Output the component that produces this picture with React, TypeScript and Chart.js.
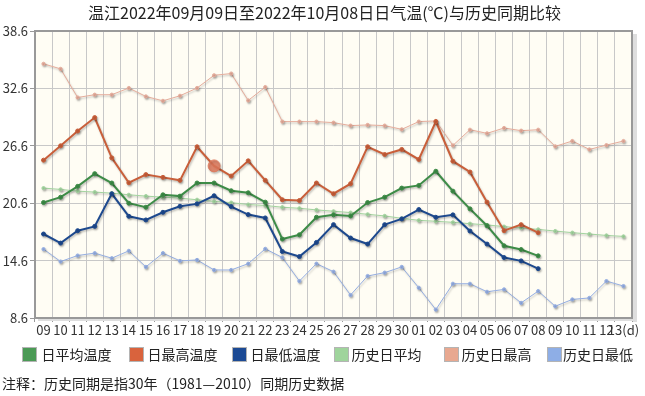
import React, { useEffect, useRef } from 'react';
import { Chart, registerables } from 'chart.js';
Chart.register(...registerables);

const FONT = "'Noto Sans CJK SC', 'Noto Sans', sans-serif";

const titleText = '温江2022年09月09日至2022年10月08日日气温(℃)与历史同期比较';
const noteText = '注释：历史同期是指30年（1981—2010）同期历史数据';

const dayLabels = [
  '09', '10', '11', '12', '13', '14', '15', '16', '17', '18', '19', '20', '21', '22', '23', '24', '25', '26', '27', '28', '29', '30',
  '01', '02', '03', '04', '05', '06', '07', '08', '09', '10', '11', '12', '13(d)',
];

const avgTemp = [20.67, 21.23, 22.36, 23.69, 22.71, 20.6, 20.18, 21.48, 21.34, 22.71, 22.71, 21.9, 21.69, 20.71, 16.85, 17.3, 19.13, 19.38, 19.27, 20.67, 21.23, 22.18, 22.46, 23.94, 21.86, 20.01, 18.25, 16.15, 15.76, 15.1];
const maxTemp = [25.1, 26.6, 28.15, 29.55, 25.34, 22.74, 23.59, 23.3, 22.99, 26.5, 24.5, 23.44, 25.03, 22.99, 20.96, 20.88, 22.71, 21.59, 22.64, 26.5, 25.69, 26.22, 25.17, 29.13, 24.99, 23.86, 20.71, 17.73, 18.36, 17.52];
const minTemp = [17.38, 16.43, 17.73, 18.18, 21.59, 19.23, 18.85, 19.65, 20.28, 20.53, 21.38, 20.25, 19.41, 19.06, 15.55, 15.02, 16.5, 18.36, 16.96, 16.33, 18.36, 18.96, 19.94, 19.13, 19.38, 17.69, 16.33, 14.92, 14.57, 13.76];
const histAvg = [22.18, 22.04, 21.86, 21.76, 21.65, 21.48, 21.34, 21.23, 21.13, 20.96, 20.78, 20.66, 20.46, 20.36, 20.18, 20.07, 19.9, 19.76, 19.62, 19.44, 19.27, 19.02, 18.81, 18.71, 18.6, 18.46, 18.33, 18.15, 18.01, 17.86, 17.69, 17.52, 17.38, 17.23, 17.13];
const histMax = [35.17, 34.64, 31.65, 31.94, 31.94, 32.64, 31.76, 31.3, 31.83, 32.64, 33.97, 34.15, 31.34, 32.74, 29.13, 29.13, 29.13, 29.02, 28.71, 28.78, 28.71, 28.32, 29.13, 29.2, 26.64, 28.28, 27.9, 28.46, 28.18, 28.28, 26.54, 27.1, 26.22, 26.67, 27.1];
const histMin = [15.8, 14.5, 15.13, 15.38, 14.85, 15.62, 13.94, 15.38, 14.57, 14.67, 13.62, 13.62, 14.28, 15.83, 14.92, 12.46, 14.28, 13.44, 11.0, 12.99, 13.34, 13.94, 11.76, 9.48, 12.18, 12.18, 11.34, 11.59, 10.18, 11.41, 9.83, 10.54, 10.7, 12.46, 11.94];

const seriesNames = ['日平均温度', '日最高温度', '日最低温度', '历史日平均', '历史日最高', '历史日最低'];
const lineColors = ['#3d8c47', '#c95f3a', '#1d498e', '#a3d49f', '#e6ad9c', '#95aee2'];
const boxColors = ['#4b9a55', '#d9633d', '#1c4a94', '#9fd49c', '#e8a890', '#8eaee6'];

const yMin = 8.6;
const yMax = 38.6;
const yStep = 6;
const highlightIndex = 10;

const legendBoxX = [22, 129, 232, 334, 444, 547];
const legendTextX = [41.5, 147.5, 250.5, 351.5, 461.5, 563];

const decor = {
  id: 'decor',
  beforeDraw(chart: any) {
    const { ctx, chartArea: a } = chart;
    ctx.save();
    ctx.fillStyle = '#ffffff';
    ctx.fillRect(0, 0, chart.width, chart.height);
    ctx.fillStyle = '#fffdf4';
    ctx.fillRect(a.left, a.top, a.right - a.left, a.bottom - a.top);
    ctx.restore();
  },
  beforeDatasetsDraw(chart: any) {
    const ctx = chart.ctx;
    ctx.save();
    ctx.shadowColor = 'rgba(0,0,0,0.25)';
    ctx.shadowBlur = 2;
    ctx.shadowOffsetX = 1;
    ctx.shadowOffsetY = 1.5;
  },
  afterDatasetsDraw(chart: any) {
    const { ctx, chartArea: a } = chart;
    ctx.restore();
    ctx.save();
    ctx.fillStyle = '#dedede';
    ctx.fillRect(a.right + 1, a.top + 3, 4, a.bottom - a.top + 1);
    ctx.fillRect(a.left + 3, a.bottom + 1, a.right - a.left + 2, 2);
    ctx.strokeStyle = '#999999';
    ctx.lineWidth = 2;
    ctx.strokeRect(a.left, a.top, a.right - a.left, a.bottom - a.top);
    ctx.restore();
  },
  afterDraw(chart: any) {
    const ctx = chart.ctx;
    ctx.save();
    ctx.fillStyle = '#222';
    ctx.textBaseline = 'middle';
    ctx.textAlign = 'center';
    ctx.font = `16px ${FONT}`;
    ctx.fillText(titleText, chart.width / 2 + 2, 13);

    ctx.textAlign = 'left';
    ctx.font = `14px ${FONT}`;
    seriesNames.forEach((name, i) => {
      const bx = legendBoxX[i];
      const by = 347;
      ctx.fillStyle = boxColors[i];
      ctx.fillRect(bx + 1, by + 1, 13, 13);
      ctx.strokeStyle = '#b4b4b4';
      ctx.lineWidth = 1;
      ctx.strokeRect(bx + 0.5, by + 0.5, 14, 14);
      ctx.fillStyle = '#222';
      ctx.fillText(name, legendTextX[i], 355);
    });

    ctx.font = `14px ${FONT}`;
    ctx.fillStyle = '#222';
    ctx.fillText(noteText, 2, 384);
    ctx.restore();
  },
};

export default function App() {
  const ref = useRef<HTMLCanvasElement | null>(null);
  useEffect(() => {
    if (!ref.current) return;
    const values = [avgTemp, maxTemp, minTemp, histAvg, histMax, histMin];
    const datasets = values.map((data, i) => {
      const hist = i >= 3;
      return {
        label: seriesNames[i],
        data,
        borderColor: lineColors[i],
        backgroundColor: lineColors[i],
        borderWidth: hist ? 1 : 2,
        pointRadius: i === 1 ? (c: any) => (c.dataIndex === highlightIndex ? 6 : 2) : hist ? 1.6 : 2,
        pointBackgroundColor: i === 1 ? (c: any) => (c.dataIndex === highlightIndex ? 'rgba(222,120,90,0.85)' : lineColors[i]) : lineColors[i],
        pointBorderColor: i === 1 ? (c: any) => (c.dataIndex === highlightIndex ? 'rgba(222,120,90,0.85)' : lineColors[i]) : lineColors[i],
        pointBorderWidth: 1,
        tension: 0,
        fill: false,
      };
    });
    const chart = new Chart(ref.current, {
      type: 'line',
      data: { labels: dayLabels, datasets },
      plugins: [decor],
      options: {
        animation: false,
        responsive: true,
        maintainAspectRatio: false,
        layout: { padding: { left: 0, top: 31, right: 13, bottom: 58 } },
        plugins: {
          legend: { display: false },
          title: { display: false },
          tooltip: { enabled: false },
        },
        scales: {
          x: {
            type: 'category',
            offset: true,
            grid: { offset: true, color: '#c8c8c8', lineWidth: 1, tickLength: 4, tickColor: '#999' },
            border: { display: false },
            ticks: { font: { family: FONT, size: 13 }, color: '#333', padding: 0, maxRotation: 0, autoSkip: false },
            afterFit(s: any) { s.height = 20; },
          },
          y: {
            min: yMin,
            max: yMax,
            grid: { color: '#c8c8c8', lineWidth: 1, tickLength: 5, tickColor: '#999' },
            border: { display: false },
            ticks: {
              stepSize: yStep,
              font: { family: FONT, size: 13 },
              color: '#333',
              padding: 2,
              callback: (v: any) => Number(v).toFixed(1),
            },
            afterFit(s: any) { s.width = 35; },
          },
        },
      },
    });
    return () => chart.destroy();
  }, []);
  return (
    <div style={{ position: 'fixed', left: 0, top: 0, width: 645, height: 396, background: '#fff' }}>
      <canvas ref={ref} />
    </div>
  );
}
